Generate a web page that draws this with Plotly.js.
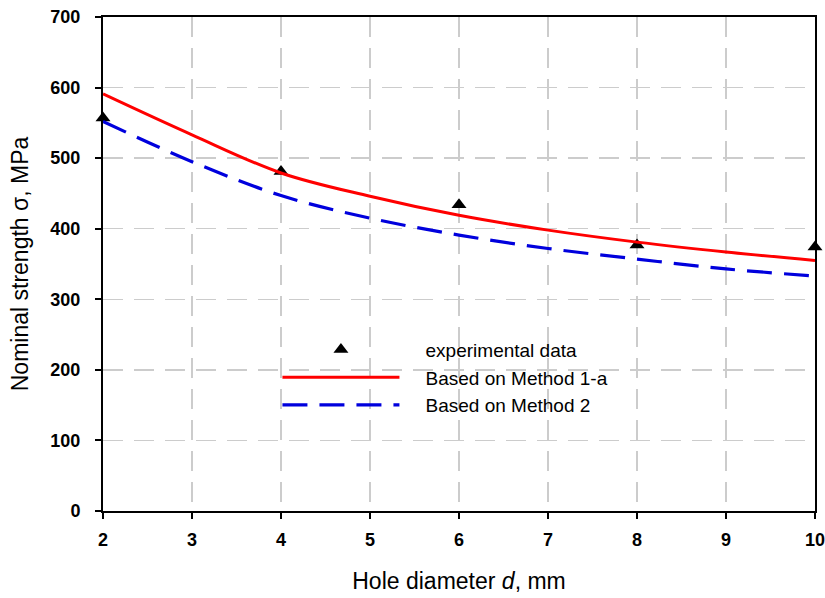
<!DOCTYPE html>
<html>
<head>
<meta charset="utf-8">
<script src="https://cdn.plot.ly/plotly-3.0.1.min.js"></script>
<style>html,body{margin:0;padding:0;background:#fff;}</style>
</head>
<body>
<div id="chart" style="width:825px;height:598px;"></div>
<script>
const expX = [2, 4, 6, 8, 10];
const expY = [557, 481, 434, 377, 374];
const curveX = [2, 3, 4, 5, 6, 7, 8, 9, 10];
const method1aY = [591, 533, 479, 446, 419, 398, 381, 367, 355];
const method2Y = [552, 495, 447, 415, 391, 372, 357, 343, 333];
const xTicks = [2, 3, 4, 5, 6, 7, 8, 9, 10];
const yTicks = [0, 100, 200, 300, 400, 500, 600, 700];
const pad = '\u00a0\u00a0\u00a0\u00a0';

const traces = [
  {x: expX, y: expY, mode: 'markers', type: 'scatter', name: pad + 'experimental data',
   marker: {symbol: 'triangle-up', size: 13, color: '#000'}, cliponaxis: false},
  {x: curveX, y: method1aY, mode: 'lines', type: 'scatter', name: pad + 'Based on Method 1-a',
   line: {color: '#ff0000', width: 3, shape: 'spline'}},
  {x: curveX, y: method2Y, mode: 'lines', type: 'scatter', name: pad + 'Based on Method 2',
   line: {color: '#0000dd', width: 3.2, shape: 'spline', dash: '25px,12px'}}
];

const fam = 'Liberation Sans, Arial, sans-serif';
const axisCommon = {
  showline: true, linecolor: '#000', linewidth: 2, mirror: true,
  ticks: 'outside', ticklen: 6, tickwidth: 2, tickcolor: '#000',
  showgrid: true, gridcolor: '#cccccc', gridwidth: 1.5, griddash: '20px,11px',
  zeroline: false, ticklabeloverflow: 'allow',
  tickfont: {family: fam, size: 18, color: '#000', weight: 'bold'}
};

const layout = {
  width: 825, height: 598,
  margin: {l: 103, r: 10, t: 17, b: 87},
  paper_bgcolor: '#fff', plot_bgcolor: '#fff',
  font: {family: fam, color: '#000'},
  showlegend: true,
  legend: {x: 0.245, y: 0.365, xanchor: 'left', yanchor: 'top',
    bgcolor: 'rgba(0,0,0,0)', itemwidth: 117, tracegroupgap: 0,
    font: {family: fam, size: 19, color: '#000'}},
  xaxis: Object.assign({}, axisCommon, {
    range: [2, 10], tickvals: xTicks, ticklabelstandoff: 5,
    title: {text: 'Hole diameter <i>d</i>, mm', standoff: 24,
      font: {family: fam, size: 23, color: '#000'}}
  }),
  yaxis: Object.assign({}, axisCommon, {
    range: [0, 700], tickvals: yTicks, ticklabelstandoff: 11,
    title: {text: 'Nominal strength σ, MPa', standoff: 15,
      font: {family: fam, size: 23, color: '#000'}}
  })
};

Plotly.newPlot('chart', traces, layout, {displayModeBar: false, staticPlot: true});
</script>
</body>
</html>
